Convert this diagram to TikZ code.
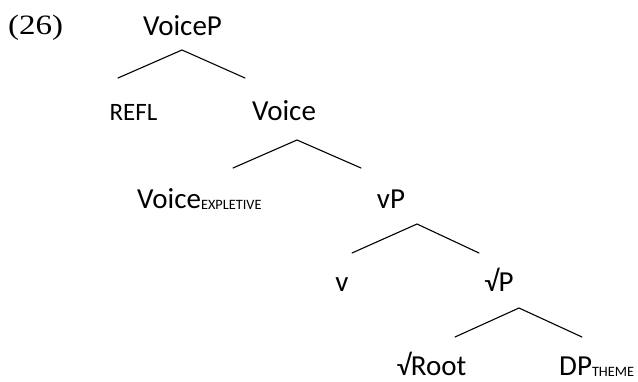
\documentclass[tikz,border=0pt]{standalone}
\usepackage{fontspec}
\setmainfont{Carlito}
\newfontfamily\numfont{Liberation Serif}
\begin{document}
\begin{tikzpicture}[x=1pt,y=-1pt,
  lab/.style={inner sep=0pt, anchor=base, font=\fontsize{29}{31}\selectfont},
  smalllab/.style={inner sep=0pt, anchor=base, font=\fontsize{25}{27}\selectfont},
  branch/.style={line width=1.1pt, line cap=round}]
\newcommand{\subtext}[1]{\raisebox{-1.5pt}{\fontsize{14.3}{16}\selectfont #1}}
\useasboundingbox (0,0) rectangle (638,381);

% example number
\node[inner sep=0pt, anchor=base west, font=\fontsize{28}{30}\numfont] (num) at (8,34) {\scalebox{1.18}[1]{(26)}};

% labels
\node[lab] (voicep) at (182.5,35) {VoiceP};
\node[smalllab] (refl) at (133.5,120) {REFL};
\node[lab] (voice) at (284,120) {Voice};
\node[lab, anchor=base west] (vexpl) at (137,208) {Voice\subtext{EXPLETIVE}};
\node[lab] (vp) at (391,208) {vP};
\node[lab] (v) at (342,291) {v};
\node[lab] (rootp) at (499,291) {√P};
\node[lab] (root) at (431.5,375) {√Root};
\node[lab, anchor=base west] (dp) at (559,375) {DP\subtext{THEME}};

% branch points
\coordinate (a1) at (182,50);  \coordinate (l1) at (118,78);  \coordinate (r1) at (245,78);
\coordinate (a2) at (297,140); \coordinate (l2) at (233,168); \coordinate (r2) at (361,168);
\coordinate (a3) at (417,224); \coordinate (l3) at (352,253); \coordinate (r3) at (479,253);
\coordinate (a4) at (519,308); \coordinate (l4) at (455,337); \coordinate (r4) at (582,337);

\draw[branch] (l1) -- (a1) -- (r1);
\draw[branch] (l2) -- (a2) -- (r2);
\draw[branch] (l3) -- (a3) -- (r3);
\draw[branch] (l4) -- (a4) -- (r4);
\end{tikzpicture}
\end{document}
